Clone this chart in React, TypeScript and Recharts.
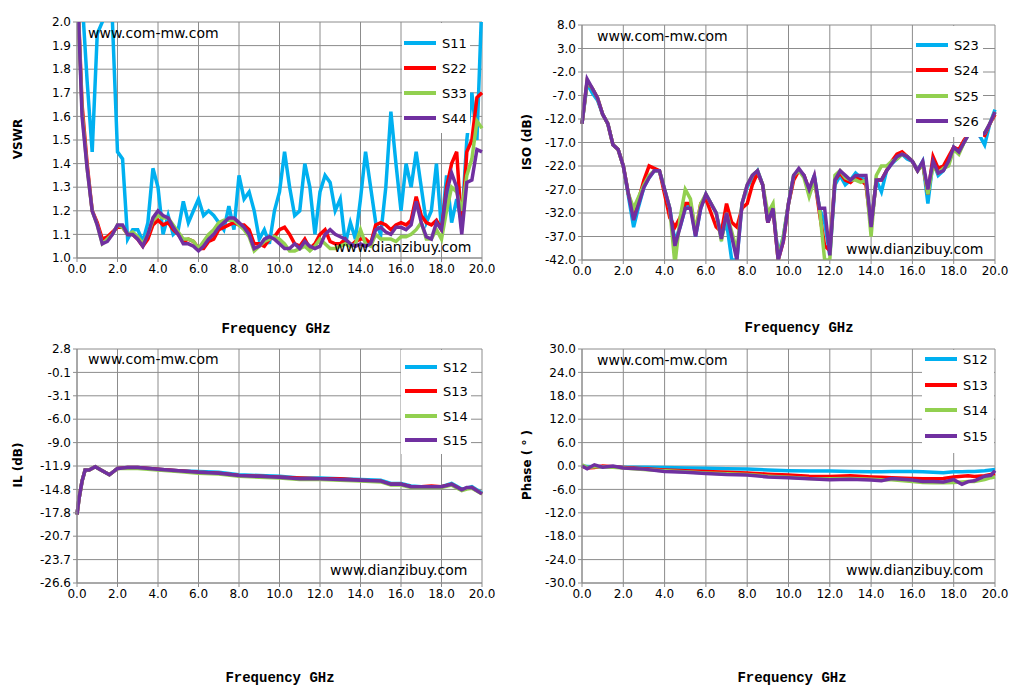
import { CartesianGrid, Line, LineChart, XAxis, YAxis } from "recharts";

const C1 = "#00b0f0";
const C2 = "#ff0000";
const C3 = "#92d050";
const C4 = "#7030a0";
const GRID = "#8c8c8c";
const COLORS = [C1, C2, C3, C4];

const X_TICKS = [0, 2, 4, 6, 8, 10, 12, 14, 16, 18, 20];

// 0.25 GHz grid for the top panels
const F25 = [
  0, 0.25, 0.5, 0.75, 1, 1.25, 1.5, 1.75, 2, 2.25, 2.5, 2.75, 3, 3.25, 3.5, 3.75, 4, 4.25, 4.5, 4.75,
  5, 5.25, 5.5, 5.75, 6, 6.25, 6.5, 6.75, 7, 7.25, 7.5, 7.75, 8, 8.25, 8.5, 8.75, 9, 9.25, 9.5, 9.75,
  10, 10.25, 10.5, 10.75, 11, 11.25, 11.5, 11.75, 12, 12.25, 12.5, 12.75, 13, 13.25, 13.5, 13.75,
  14, 14.25, 14.5, 14.75, 15, 15.25, 15.5, 15.75, 16, 16.25, 16.5, 16.75, 17, 17.25, 17.5, 17.75,
  18, 18.25, 18.5, 18.75, 19, 19.25, 19.5, 19.75, 20,
];

// VSWR
const S11 = [
  2.2, 2.1, 1.75, 1.45, 1.95, 2.0, 2.1, 2.0, 1.45, 1.42, 1.08, 1.12, 1.12, 1.07, 1.15, 1.38, 1.3, 1.1, 1.18, 1.1,
  1.12, 1.24, 1.15, 1.2, 1.25, 1.18, 1.2, 1.18, 1.15, 1.12, 1.22, 1.12, 1.35, 1.25, 1.28, 1.2, 1.08, 1.12, 1.06, 1.2,
  1.28, 1.45, 1.3, 1.18, 1.2, 1.4, 1.3, 1.1, 1.28, 1.35, 1.32, 1.2, 1.25, 1.06, 1.15, 1.08,
  1.25, 1.45, 1.3, 1.15, 1.1, 1.3, 1.62, 1.4, 1.2, 1.4, 1.3, 1.45, 1.3, 1.15, 1.2, 1.4,
  1.12, 1.35, 1.15, 1.25, 1.15, 1.5, 1.7, 1.5, 2.1,
];
const S22 = [
  2.2, 1.65, 1.4, 1.2, 1.15, 1.08, 1.09, 1.11, 1.13, 1.13, 1.1, 1.1, 1.08, 1.05, 1.08, 1.14, 1.16, 1.14, 1.15, 1.12,
  1.1, 1.07, 1.08, 1.07, 1.04, 1.04, 1.07, 1.08, 1.12, 1.13, 1.14, 1.15, 1.14, 1.14, 1.12, 1.06, 1.06, 1.05, 1.08, 1.09,
  1.12, 1.13, 1.1, 1.06, 1.05, 1.08, 1.04, 1.06, 1.1, 1.12, 1.07, 1.06, 1.06, 1.08, 1.05, 1.07,
  1.08, 1.08, 1.06, 1.14, 1.15, 1.14, 1.12, 1.14, 1.15, 1.14, 1.16, 1.26, 1.18, 1.15, 1.14, 1.16,
  1.12, 1.3, 1.4, 1.45, 1.12, 1.45, 1.5, 1.68, 1.7,
];
const S33 = [
  2.2, 1.62, 1.38, 1.2, 1.14, 1.06, 1.08, 1.1, 1.14, 1.13, 1.1, 1.11, 1.09, 1.06, 1.1, 1.16, 1.18, 1.17, 1.17, 1.14,
  1.11, 1.08, 1.08, 1.07, 1.04, 1.07, 1.1, 1.12, 1.15, 1.16, 1.16, 1.16, 1.14, 1.12, 1.09, 1.03, 1.05, 1.07, 1.08, 1.09,
  1.08, 1.06, 1.03, 1.03, 1.04, 1.05, 1.03, 1.05, 1.08, 1.06, 1.04, 1.04, 1.05, 1.06, 1.05, 1.06,
  1.12, 1.06, 1.05, 1.1, 1.08, 1.08, 1.08, 1.07, 1.09, 1.09, 1.1, 1.12, 1.15, 1.08, 1.08, 1.12,
  1.08, 1.2, 1.3, 1.28, 1.2, 1.35, 1.42, 1.58, 1.55,
];
const S44 = [
  2.2, 1.6, 1.38, 1.2, 1.14, 1.06, 1.07, 1.1, 1.14, 1.14, 1.1, 1.1, 1.08, 1.05, 1.1, 1.17, 1.2, 1.18, 1.17, 1.13,
  1.1, 1.06, 1.06, 1.05, 1.03, 1.05, 1.08, 1.1, 1.13, 1.15, 1.17, 1.17, 1.15, 1.13, 1.1, 1.04, 1.05, 1.08, 1.09, 1.08,
  1.06, 1.04, 1.04, 1.06, 1.04, 1.07, 1.05, 1.04, 1.05, 1.1, 1.12, 1.1, 1.09, 1.08, 1.06, 1.05,
  1.06, 1.05, 1.06, 1.12, 1.13, 1.11, 1.1, 1.13, 1.13, 1.12, 1.14, 1.24, 1.15, 1.09, 1.08, 1.15,
  1.12, 1.28, 1.36, 1.3, 1.1, 1.32, 1.33, 1.46, 1.45,
];

// ISO (dB)
const S23 = [
  -13, -4.5, -6.5, -8, -11, -13, -17.5, -18.5, -22, -28.5, -35, -30.5, -26.5, -24.5, -23, -23, -27, -31, -38, -35,
  -31, -30, -37, -31, -28, -30, -32, -37, -34, -42, -42, -30, -26.5, -24.5, -23, -26, -34, -31, -41, -37,
  -30, -24, -23, -24, -27.5, -24, -31, -34, -41, -26, -24, -26, -25, -23.5, -24.5, -25,
  -35, -25, -27.5, -23, -21.5, -20.5, -19.5, -20.5, -21, -23, -21, -30, -21, -24, -23, -21,
  -18, -19, -17, -15, -14, -15.5, -17.5, -13, -10,
];
const S24 = [
  -13, -4, -5.5, -7.5, -11, -13, -17.5, -18.5, -22, -28, -32, -29, -25, -22, -22.5, -23, -28, -33, -35, -33,
  -30, -30, -36, -30, -29, -32, -35, -36, -30, -34, -35, -31, -30, -26, -23.5, -26, -34, -31, -42, -38,
  -30, -25, -23, -24, -27, -24.5, -32, -39, -40, -25, -23.5, -25, -25.5, -24.5, -25, -26,
  -35, -25, -25, -23, -21, -19.5, -19, -20, -21, -23, -21.5, -28, -20, -22.5, -22, -20,
  -18, -18.5, -16.5, -15, -14, -15, -15.5, -13, -11,
];
const S25 = [
  -13, -4, -5.5, -7.5, -11, -13, -17.5, -18.5, -22, -28, -31, -28.5, -26, -24, -23, -23, -27, -31, -43, -33,
  -27, -29, -36, -30, -28, -30, -32, -38, -32, -36, -40, -30, -26, -24, -23, -26, -32, -30, -42, -37,
  -30, -24, -23, -24.5, -28.5, -25, -31, -42, -42, -24, -23, -24.5, -25, -25, -25.5, -25,
  -37, -24, -22, -22, -21, -20.5, -19.5, -20, -21, -23, -21.5, -28, -22, -23.5, -22.5, -22,
  -18.5, -19.5, -17, -15, -14, -15, -15, -13, -10.5,
];
const S26 = [
  -13, -3.5, -5.5, -7.5, -11, -13, -17.5, -18.5, -22, -28, -33.5, -30, -26.5, -24.5, -23, -23, -27, -31, -39, -35,
  -31, -31, -37, -31, -28, -30, -32, -37.5, -32, -37, -42, -30, -26, -24, -23, -26, -34, -31, -42, -38,
  -30, -24, -22.5, -24, -27, -24, -31, -31, -41, -25, -23, -24, -25, -24, -24, -24,
  -35, -25, -25, -23, -21.5, -20, -19.5, -20, -21, -23, -21, -27, -21, -23.5, -23, -21,
  -18, -19, -17, -15, -14, -15.5, -15, -13, -10.5,
];

// IL (dB)
const F_IL = [0, 0.1, 0.25, 0.4, 0.6, 0.9, 1.25, 1.6, 2, 2.5, 3, 4, 5, 6, 7, 8, 9, 10, 11, 12, 13, 14, 15, 15.5, 16, 16.5, 17, 17.5, 18, 18.5, 19, 19.25, 19.5, 20];
const S12_IL = [-18, -16, -13.8, -12.4, -12.4, -12.0, -12.5, -13.0, -12.2, -12.1, -12.1, -12.3, -12.5, -12.6, -12.7, -13.0, -13.1, -13.2, -13.4, -13.4, -13.5, -13.6, -13.7, -14.1, -14.1, -14.4, -14.5, -14.5, -14.5, -14.1, -14.8, -14.7, -14.5, -15.3];
const S13_IL = [-18, -16, -13.8, -12.4, -12.4, -12.0, -12.5, -13.0, -12.2, -12.1, -12.1, -12.3, -12.5, -12.7, -12.8, -13.1, -13.2, -13.3, -13.4, -13.5, -13.5, -13.7, -13.8, -14.2, -14.2, -14.5, -14.5, -14.4, -14.5, -14.2, -14.9, -14.7, -14.6, -15.4];
const S14_IL = [-18, -16, -13.8, -12.4, -12.4, -12.0, -12.5, -13.0, -12.2, -12.2, -12.2, -12.4, -12.6, -12.8, -12.9, -13.2, -13.3, -13.4, -13.6, -13.6, -13.7, -13.8, -13.9, -14.3, -14.3, -14.6, -14.6, -14.6, -14.6, -14.3, -15.0, -14.8, -14.7, -15.4];
const S15_IL = [-18, -16, -13.8, -12.4, -12.4, -12.0, -12.5, -13.0, -12.2, -12.1, -12.1, -12.3, -12.5, -12.7, -12.8, -13.1, -13.2, -13.3, -13.5, -13.5, -13.6, -13.7, -13.8, -14.2, -14.2, -14.5, -14.5, -14.5, -14.5, -14.2, -14.9, -14.6, -14.6, -15.4];

// Phase
const F_PH = [0, 0.25, 0.6, 1, 1.5, 2, 3, 4, 5, 6, 7, 8, 9, 10, 11, 12, 13, 14, 14.5, 15, 16, 16.5, 17, 17.5, 18, 18.4, 18.7, 19, 19.5, 19.8, 20];
const S12_PH = [0, -0.1, -0.2, -0.2, -0.2, -0.3, -0.3, -0.4, -0.5, -0.6, -0.7, -0.8, -1.0, -1.2, -1.3, -1.3, -1.4, -1.5, -1.5, -1.4, -1.4, -1.5, -1.6, -1.7, -1.5, -1.5, -1.4, -1.4, -1.2, -1.0, -0.9];
const S13_PH = [0, -0.5, -0.4, 0, -0.2, -0.4, -0.7, -1.0, -1.2, -1.4, -1.6, -1.8, -2.1, -2.3, -2.6, -2.7, -2.5, -2.8, -2.9, -3.0, -3.2, -3.3, -3.3, -3.2, -2.8, -2.6, -2.5, -2.7, -2.5, -2.2, -2.0];
const S14_PH = [0.3, -0.4, -0.2, -0.2, -0.3, -0.5, -0.9, -1.2, -1.5, -1.8, -2.0, -2.2, -2.6, -2.9, -3.2, -3.3, -3.2, -3.4, -3.5, -3.5, -4.0, -4.2, -4.3, -4.3, -4.2, -4.1, -4.0, -4.0, -3.5, -3.0, -2.8];
const S15_PH = [0, -0.7, 0.3, -0.3, 0, -0.5, -0.8, -1.4, -1.6, -1.9, -2.2, -2.3, -2.8, -3.0, -3.3, -3.5, -3.4, -3.6, -3.8, -3.2, -3.6, -4.0, -4.0, -4.1, -3.5, -4.7, -4.0, -3.8, -2.6, -2.4, -1.2];

const VSWR_TICKS = [1.0, 1.1, 1.2, 1.3, 1.4, 1.5, 1.6, 1.7, 1.8, 1.9, 2.0];
const ISO_TICKS = [-42, -37, -32, -27, -22, -17, -12, -7, -2, 3, 8];
const IL_TICKS = [-26.6, -23.66, -20.72, -17.78, -14.84, -11.9, -8.96, -6.02, -3.08, -0.14, 2.8];
const PH_TICKS = [-30, -24, -18, -12, -6, 0, 6, 12, 18, 24, 30];

function rows(freq: number[], series: number[][]) {
  return freq.map((f, i) => ({ f, a: series[0][i], b: series[1][i], c: series[2][i], d: series[3][i] }));
}

const FONT = "Verdana, 'DejaVu Sans', sans-serif";

interface PanelProps {
  left: number;
  top: number;
  plot: [number, number, number, number]; // x0, y0, x1, y1 in page coords
  data: any[];
  ticks: number[];
  names: string[];
  yTitle: string;
  yTitleX: number;
  xTitleX: number;
  xTitleY: number;
  legend: { x: number; y: number; w: number; h: number; lineX: number; ys: number[] };
  mark1: [number, number];
  mark2: [number, number];
}

function Panel(p: PanelProps) {
  const W = 510;
  const H = 340;
  const [x0, y0, x1, y1] = p.plot;
  const keys = ["a", "b", "c", "d"];
  return (
    <>
      <div style={{ position: "absolute", left: p.left, top: p.top }}>
        <LineChart
          width={W}
          height={H}
          data={p.data}
          margin={{ left: 0, top: y0 - p.top, right: p.left + W - x1, bottom: 0 }}
        >
          <CartesianGrid stroke={GRID} strokeWidth={1} />
          <XAxis
            type="number"
            dataKey="f"
            domain={[0, 20]}
            ticks={X_TICKS}
            interval={0}
            height={p.top + H - y1}
            tickFormatter={(v) => Number(v).toFixed(1)}
            tick={{ fill: "#000", fontSize: 12, fontFamily: FONT }}
            axisLine={{ stroke: GRID }}
            tickLine={{ stroke: GRID }}
            tickSize={4}
          />
          <YAxis
            type="number"
            domain={[p.ticks[0], p.ticks[p.ticks.length - 1]]}
            ticks={p.ticks}
            interval={0}
            allowDataOverflow
            width={x0 - p.left}
            tickFormatter={(v) => Number(v).toFixed(1)}
            tick={{ fill: "#000", fontSize: 12, fontFamily: FONT }}
            axisLine={{ stroke: GRID }}
            tickLine={{ stroke: GRID }}
            tickSize={4}
          />
          {keys.map((k, i) => (
            <Line
              key={k}
              dataKey={k}
              type="linear"
              stroke={COLORS[i]}
              strokeWidth={3.5}
              dot={false}
              isAnimationActive={false}
            />
          ))}
        </LineChart>
      </div>
      <div style={{ position: "absolute", left: p.mark1[0], top: p.mark1[1], fontFamily: FONT, fontSize: 14, color: "#000" }}>
        www.com-mw.com
      </div>
      <div style={{ position: "absolute", left: p.mark2[0], top: p.mark2[1], fontFamily: FONT, fontSize: 14, color: "#000" }}>
        www.dianzibuy.com
      </div>
      <div
        style={{
          position: "absolute",
          left: p.legend.x,
          top: p.legend.y,
          width: p.legend.w,
          height: p.legend.h,
          background: "#fff",
        }}
      />
      {p.names.map((n, i) => (
        <div key={n} style={{ position: "absolute", left: p.legend.lineX, top: p.legend.ys[i] - 9, display: "flex", alignItems: "center", height: 18 }}>
          <div style={{ width: 32, height: 4, background: COLORS[i] }} />
          <span style={{ marginLeft: 6, fontFamily: FONT, fontSize: 13 }}>{n}</span>
        </div>
      ))}
      <div
        style={{
          position: "absolute",
          left: p.yTitleX - 60,
          top: (y0 + y1) / 2 - 8,
          width: 120,
          textAlign: "center",
          transform: "rotate(-90deg)",
          fontFamily: "'DejaVu Sans', sans-serif",
          fontWeight: "bold",
          fontSize: 12,
        }}
      >
        {p.yTitle}
      </div>
      <div
        style={{
          position: "absolute",
          left: p.xTitleX - 100,
          top: p.xTitleY - 9,
          width: 200,
          textAlign: "center",
          fontFamily: "'Liberation Mono', 'Courier New', monospace",
          fontWeight: "bold",
          fontSize: 14,
        }}
      >
        Frequency GHz
      </div>
    </>
  );
}

export default function App() {
  return (
    <div style={{ position: "absolute", left: 0, top: 0, width: 1024, height: 700, background: "#fff", overflow: "hidden" }}>
      <Panel
        left={0}
        top={0}
        plot={[77, 22, 482, 258]}
        data={rows(F25, [S11, S22, S33, S44])}
        ticks={VSWR_TICKS}
        names={["S11", "S22", "S33", "S44"]}
        yTitle="VSWR"
        yTitleX={18}
        xTitleX={276}
        xTitleY={330}
        legend={{ x: 402, y: 23, w: 68, h: 110, lineX: 404, ys: [43, 68, 93, 118] }}
        mark1={[88, 25]}
        mark2={[334, 239]}
      />
      <Panel
        left={510}
        top={0}
        plot={[582, 25, 995, 260]}
        data={rows(F25, [S23, S24, S25, S26])}
        ticks={ISO_TICKS}
        names={["S23", "S24", "S25", "S26"]}
        yTitle="ISO (dB)"
        yTitleX={527}
        xTitleX={799}
        xTitleY={329}
        legend={{ x: 913, y: 26, w: 70, h: 111, lineX: 916, ys: [45, 70, 96, 121] }}
        mark1={[597, 28]}
        mark2={[846, 241]}
      />
      <Panel
        left={0}
        top={340}
        plot={[77, 349, 482, 583]}
        data={rows(F_IL, [S12_IL, S13_IL, S14_IL, S15_IL])}
        ticks={IL_TICKS}
        names={["S12", "S13", "S14", "S15"]}
        yTitle="IL (dB)"
        yTitleX={18}
        xTitleX={280}
        xTitleY={679}
        legend={{ x: 401, y: 350, w: 70, h: 104, lineX: 405, ys: [367, 391, 416, 440] }}
        mark1={[88, 351]}
        mark2={[330, 562]}
      />
      <Panel
        left={510}
        top={340}
        plot={[582, 349, 995, 583]}
        data={rows(F_PH, [S12_PH, S13_PH, S14_PH, S15_PH])}
        ticks={PH_TICKS}
        names={["S12", "S13", "S14", "S15"]}
        yTitle="Phase ( ° )"
        yTitleX={527}
        xTitleX={792}
        xTitleY={679}
        legend={{ x: 922, y: 350, w: 72, h: 103, lineX: 925, ys: [359, 385, 410, 436] }}
        mark1={[597, 352]}
        mark2={[846, 562]}
      />
    </div>
  );
}
